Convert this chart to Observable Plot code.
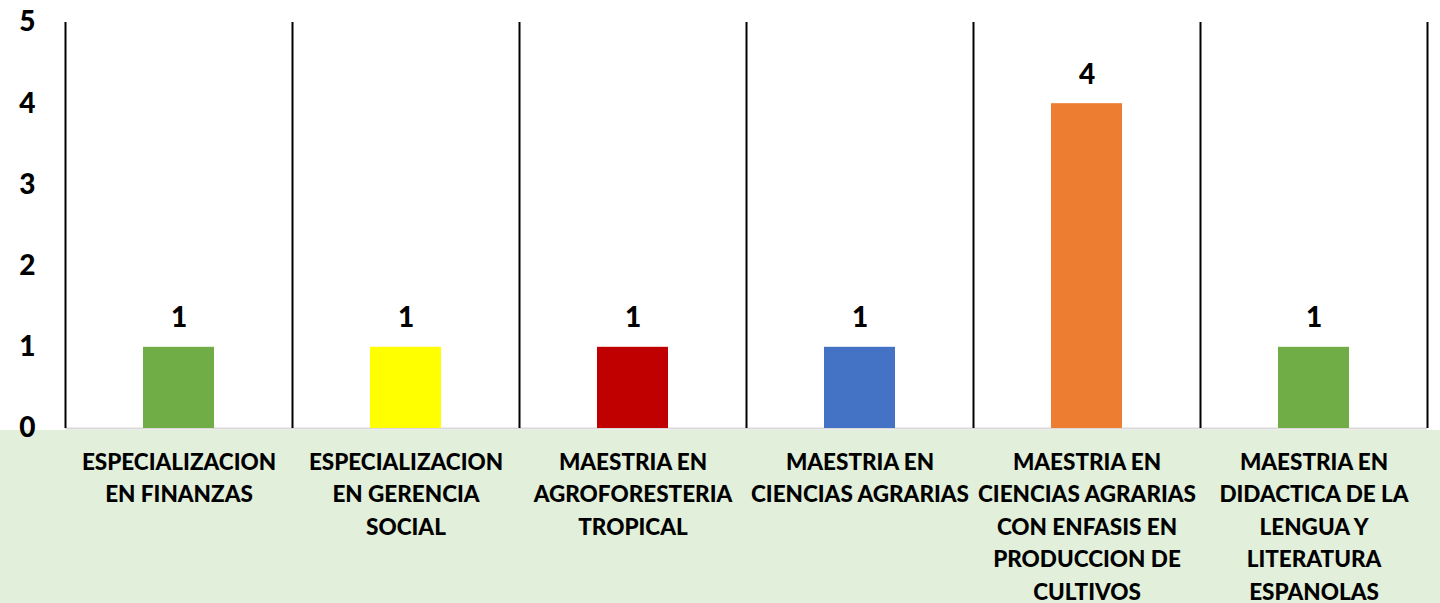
<!DOCTYPE html>
<html>
<head>
<meta charset="utf-8">
<script src="https://cdn.jsdelivr.net/npm/d3@7"></script>
<script src="https://cdn.jsdelivr.net/npm/@observablehq/plot@0.6"></script>
<style>
  html, body { margin: 0; padding: 0; background: #fff; }
</style>
</head>
<body>
<div id="chart"></div>
<script>
const categories = [
  "ESPECIALIZACION\nEN FINANZAS",
  "ESPECIALIZACION\nEN GERENCIA\nSOCIAL",
  "MAESTRIA EN\nAGROFORESTERIA\nTROPICAL",
  "MAESTRIA EN\nCIENCIAS AGRARIAS",
  "MAESTRIA EN\nCIENCIAS AGRARIAS\nCON ENFASIS EN\nPRODUCCION DE\nCULTIVOS",
  "MAESTRIA EN\nDIDACTICA DE LA\nLENGUA Y\nLITERATURA\nESPANOLAS"
];
const values = [1, 1, 1, 1, 4, 1];
const colors = ["#70ad47", "#ffff00", "#c00000", "#4472c4", "#ed7d31", "#70ad47"];
const yTicks = [0, 1, 2, 3, 4, 5];

const data = categories.map((c, i) => ({category: c, value: values[i], color: colors[i]}));

const width = 1440, height = 603;
const marginLeft = 65, marginRight = 13, marginTop = 22, marginBottom = 175;
const bw = (width - marginLeft - marginRight) / categories.length;
const font = "Lato, 'Liberation Sans', sans-serif";

const chart = Plot.plot({
  width, height, marginLeft, marginRight, marginTop, marginBottom,
  style: {
    fontFamily: font, fontWeight: "bold", color: "#000", overflow: "visible",
    background: "linear-gradient(to bottom, #ffffff 0px, #ffffff 430px, #e2efda 430px, #e2efda 603px)"
  },
  x: {domain: categories, padding: 0},
  y: {domain: [0, 5]},
  marks: [
    Plot.ruleY([0], {stroke: "#d9d9d9", strokeWidth: 2}),
    Plot.ruleX(categories, {x: d => d, dx: -bw / 2, y1: 0, y2: 5, stroke: "#000", strokeWidth: 2}),
    Plot.ruleX(categories.slice(-1), {x: d => d, dx: bw / 2, y1: 0, y2: 5, stroke: "#000", strokeWidth: 2}),
    Plot.barY(data, {x: "category", y: "value", fill: "color", insetLeft: 78, insetRight: 78}),
    Plot.text(data, {x: "category", y: "value", text: d => String(d.value), dy: -29, fontSize: 28, fontWeight: 900, fill: "#000"}),
    Plot.axisY({ticks: yTicks, tickSize: 0, tickPadding: 30, fontSize: 28, fontWeight: 900, label: null, tickFormat: d => String(d)}),
    Plot.axisX({tickSize: 0, tickPadding: 18, fontSize: 22.5, lineHeight: 1.444, label: null, fontWeight: 900})
  ]
});
document.getElementById("chart").appendChild(chart);
</script>
</body>
</html>
